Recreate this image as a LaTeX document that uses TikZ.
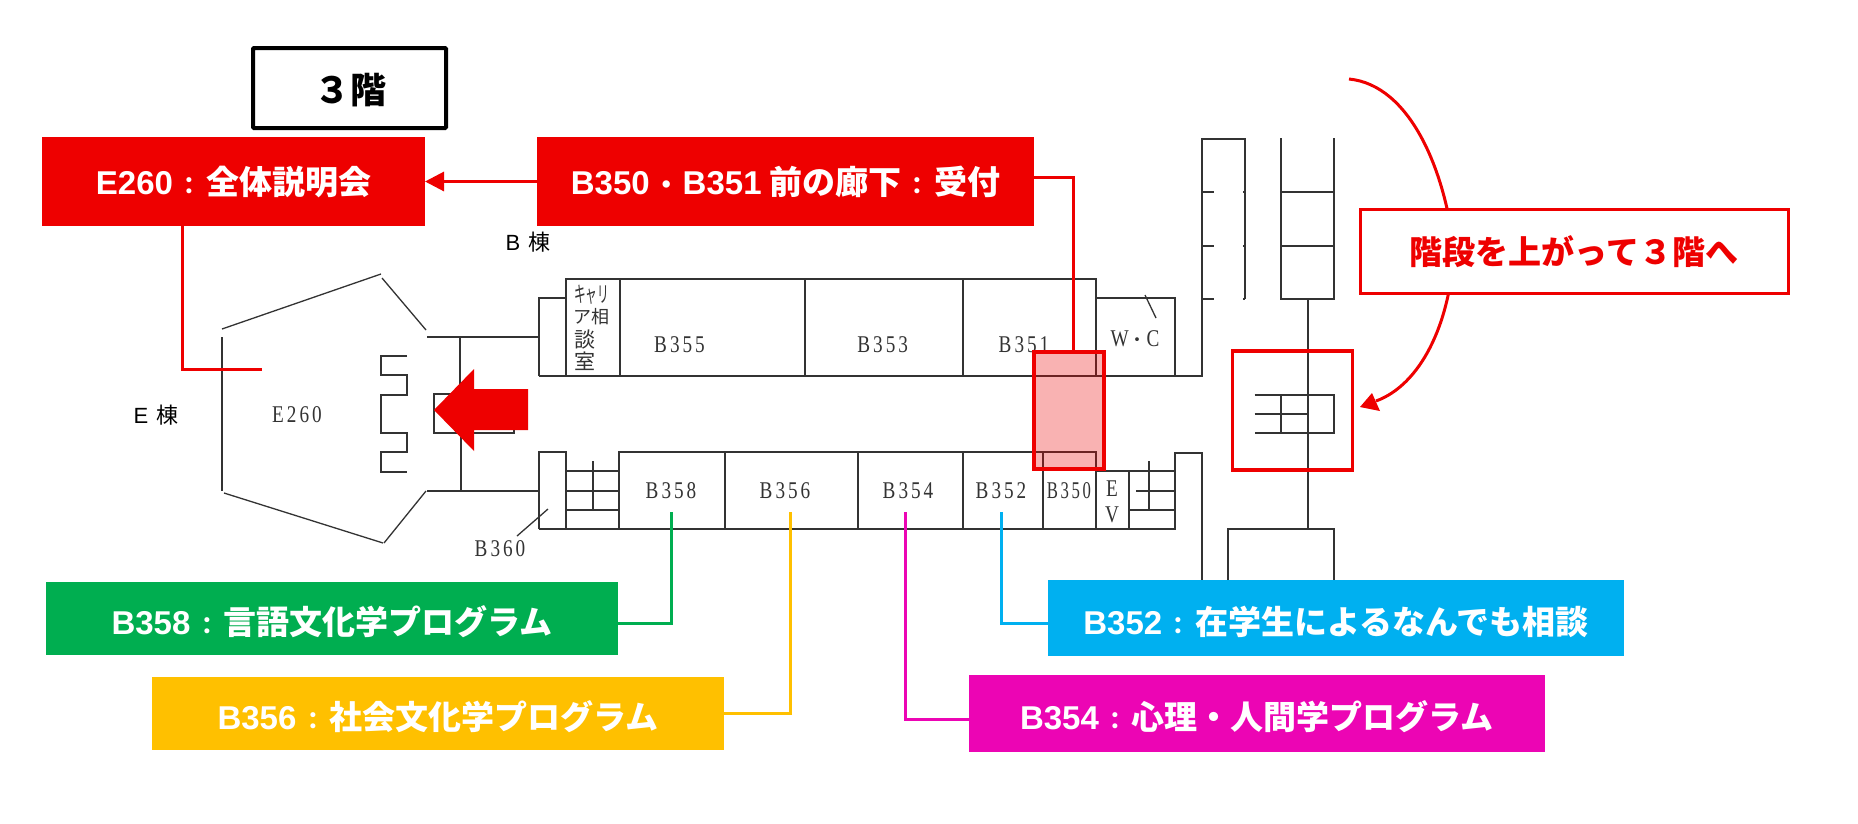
\documentclass[tikz,border=0pt]{standalone}
\usepackage{fontspec}
\usepackage{graphicx}
\usetikzlibrary{arrows.meta}
\setmainfont{Liberation Sans}
\newfontfamily\jp{Noto Sans CJK JP}
\newfontfamily\lat{Liberation Sans}
\newfontfamily\ser{Liberation Serif}[FakeStretch=0.8,LetterSpace=12.5]
\definecolor{cred}{HTML}{EE0000}
\definecolor{cgreen}{HTML}{00AE50}
\definecolor{cgold}{HTML}{FFC000}
\definecolor{ccyan}{HTML}{00B0F0}
\definecolor{cmag}{HTML}{EC05B4}
\definecolor{wall}{HTML}{333333}
\newcommand{\bold}{\fontsize{33}{33}\selectfont\bfseries\jp}
\newcommand{\cln}{\makebox[33pt]{\scalebox{.72}{：}}}
\newcommand{\low}[2]{\raisebox{-#1pt}[0pt][0pt]{#2}}
\tikzset{
  plan/.style={draw=wall,line width=1.3pt},
  lab/.style={inner sep=0pt,outer sep=0pt,minimum width=#1,text=white,font=\bold},
  room/.style={inner sep=0pt,text=wall,font=\fontsize{24}{24}\selectfont\ser},
  small/.style={inner sep=0pt,text=wall,font=\fontsize{18}{18}\selectfont\jp},
  wing/.style={inner sep=0pt,text=black,font=\fontsize{22}{22}\selectfont\jp},
  conn/.style={line width=3pt,line join=miter}
}
\begin{document}
\begin{tikzpicture}[x=1pt,y=-1pt]
\path[fill=white,use as bounding box] (0,0) rectangle (1858,823);
% E wing
\draw[plan] (222,329)--(381,274);
\draw[plan] (382,278)--(426,330);
\draw[plan] (222,337)--(222,491);
\draw[plan] (224,493)--(383,543);
\draw[plan] (384,543)--(426,491);
\draw[plan] (427,337)--(540,337);
\draw[plan] (427,491)--(539,491);
\draw[plan] (460,337)--(460,394);
\draw[plan] (461,433)--(461,491);
\draw[plan] (434,394) rectangle (514,433);
\draw[plan] (407,356)--(381,356)--(381,375)--(407,375)--(407,395)--(381,395)--(381,433)--(407,433)--(407,452)--(381,452)--(381,472)--(407,472);
% B wing upper
\draw[plan] (539,376)--(539,298)--(566,298);
\draw[plan] (566,376)--(566,279)--(1096,279)--(1096,376);
\draw[plan] (539,376)--(1202,376)--(1202,139)--(1245,139)--(1245,299);
\draw[plan] (620,279)--(620,376);
\draw[plan] (805,279)--(805,376);
\draw[plan] (963,279)--(963,376);
\draw[plan] (1096,298)--(1175,298)--(1175,376);
\draw[plan] (1145,295)--(1156,318);
\draw[plan] (1202,192)--(1214,192) (1202,246)--(1214,246) (1202,299)--(1214,299);
\draw[plan] (1243,192)--(1245,192) (1243,246)--(1245,246) (1243,299)--(1245,299);
% tower
\draw[plan] (1281,138)--(1281,299)--(1334,299)--(1334,138);
\draw[plan] (1281,192)--(1334,192) (1281,246)--(1334,246);
\draw[plan] (1308,299)--(1308,529);
\draw[plan] (1254.5,395)--(1334,395)--(1334,433)--(1254.5,433);
\draw[plan] (1254.5,414)--(1308,414);
\draw[plan] (1281,395)--(1281,433);
\draw[plan] (1228,581)--(1228,529)--(1334,529)--(1334,581);
% B wing lower
\draw[plan] (539,529)--(539,452)--(566,452)--(566,529);
\draw[plan] (539,529)--(1175,529)--(1175,453)--(1202,453)--(1202,581);
\draw[plan] (566,471)--(619,471) (566,491)--(619,491) (566,510)--(619,510);
\draw[plan] (593,461)--(593,510);
\draw[plan] (619,529)--(619,452)--(1096,452)--(1096,529);
\draw[plan] (725,452)--(725,529) (858,452)--(858,529) (963,452)--(963,529) (1043,452)--(1043,529);
\draw[plan] (1096,471)--(1175,471) (1129,471)--(1129,529);
\draw[plan] (1136,491)--(1175,491) (1129,510)--(1175,510);
\draw[plan] (1149,461)--(1149,510);
\draw[plan] (548,509)--(517,536);
% room labels
\node[room] (r355) at (679.5,345) {B355};
\node[room] (r353) at (882.7,345) {B353};
\node[room] (r351) at (1024,345) {B351};
\node[room] (r358) at (671,491) {B358};
\node[room] (r356) at (785,491) {B356};
\node[room] (r354) at (908,491) {B354};
\node[room] (r352) at (1001,491) {B352};
\node[room] (r350) at (1069,491) {\scalebox{.87}[1]{B350}};
\node[room] (r260) at (297,415) {E260};
\node[room] (r360) at (500,549) {B360};
\node[room] (rwc) at (1135,339) {W{\fontsize{18}{18}\selectfont\jp ・}C};
\node[room] (re) at (1112,489) {E};
\node[room] (rv) at (1112,515) {V};
\node[small,font=\fontsize{22}{22}\selectfont\jp] (k1) at (591.5,295) {\scalebox{.53}[1]{キャリ}};
\node[small] (k2) at (591,316.5) {ア相};
\node[small,font=\fontsize{21}{21}\selectfont\jp] (k3) at (585,339.5) {談};
\node[small,font=\fontsize{21}{21}\selectfont\jp] (k4) at (585,361) {室};
\node[wing] (wb) at (528,242) {{\lat B}\hspace{3pt} 棟};
\node[wing] (we) at (156,415) {{\lat E}\hspace{3pt} 棟};
% title
\node[draw=black,line width=4pt,rounded corners=1pt,minimum width=193pt,minimum height=80pt,inner sep=0pt,text=black,font=\fontsize{36}{36}\selectfont\bfseries\jp] (title) at (349.5,88) {\low{15.5}{\hspace{2pt}３階}};
% big arrow
\fill[cred] (434,410)--(474,369)--(474,389)--(528,389)--(528,430)--(474,430)--(474,451)--cycle;
% highlight boxes
\node[draw=cred,line width=4pt,fill=cred,fill opacity=.3,draw opacity=1,minimum width=70pt,minimum height=117pt,inner sep=0pt] (recv) at (1069,410.5) {};
\node[draw=cred,line width=3.5pt,minimum width=120pt,minimum height=119pt,inner sep=0pt] (stair) at (1292.3,410.5) {};
% coordinates
\coordinate (ce) at (262,369);
\coordinate (c358) at (671.4,512);
\coordinate (c356) at (790,512);
\coordinate (c354) at (905,512);
\coordinate (c352) at (1001.5,512);
\coordinate (cstart) at (1349,79);
\coordinate (cmid) at (1454,250);
\coordinate (ctip) at (1360,407);
% curved arrow
\draw[cred,line width=3pt] (cstart) .. controls (1410,85) and (1445,170) .. (cmid)
  .. controls (1450,325) and (1420,385) .. (1376,401);
\fill[cred] (ctip)--(1372,393)--(1380,411)--cycle;
% red boxes
\node[lab=383pt,minimum height=89pt,fill=cred] (e260) at (233.5,181.5) {\low{12.5}{{\lat E260}\cln 全体説明会}};
\node[lab=497pt,minimum height=89pt,fill=cred] (b350) at (785.5,181.5) {\low{12.5}{{\lat B350}\makebox[33pt]{\scalebox{.8}{・}}{\lat B351} 前の廊下\cln 受付}};
\node[draw=cred,fill=white,line width=3pt,minimum width=428pt,minimum height=84pt,inner sep=0pt,text=cred,font=\bold] (go) at (1574,251) {\low{13}{階段を上がって３階へ}};
% programme boxes
\node[lab=572pt,minimum height=73pt,fill=cgreen] (b358) at (332,618.5) {\low{15.5}{{\lat B358}\cln 言語文化学プログラム}};
\node[lab=572pt,minimum height=73pt,fill=cgold] (b356) at (438,713.5) {\low{15.5}{{\lat B356}\cln 社会文化学プログラム}};
\node[lab=576pt,minimum height=76pt,fill=ccyan] (b352) at (1336,618) {\low{16}{{\lat B352}\cln 在学生によるなんでも相談}};
\node[lab=576pt,minimum height=77pt,fill=cmag] (b354) at (1257,713.5) {\low{15.5}{{\lat B354}\cln 心理・人間学プログラム}};
% connectors
\draw[cred,line width=3pt,-{Triangle[length=19pt,width=19pt]}] (b350.west) -- (e260.east);
\draw[cred,conn] (e260.south -| 182,0) |- (ce);
\draw[cred,conn] ([yshift=4.5pt]b350.east) -| (recv.north -| 1073,0);
\draw[cgreen,conn] ([yshift=-4.5pt]b358.east) -| (c358);
\draw[cgold,conn] ([yshift=0pt]b356.east) -| (c356);
\draw[cmag,conn] ([yshift=-5.5pt]b354.west) -| (c354);
\draw[ccyan,conn] ([yshift=-5pt]b352.west) -| (c352);
\end{tikzpicture}
\end{document}
